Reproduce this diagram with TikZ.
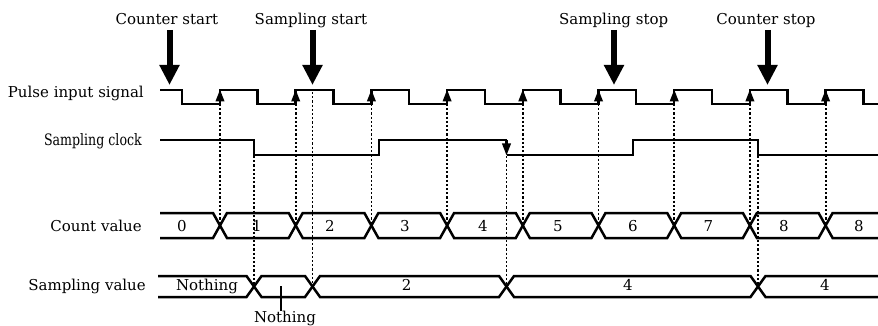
\documentclass[tikz,border=0pt]{standalone}
\usepackage{fontspec}
\usepackage{graphicx}
\setmainfont{DejaVu Serif}
\usetikzlibrary{arrows.meta}
\begin{document}
\begin{tikzpicture}[x=1pt,y=-1pt,
  sig/.style={line width=2.5pt, line join=miter},
  dotline/.style={line width=1.8pt, dash pattern=on 2.2pt off 2pt},
  edgearrow/.style={line width=2.2pt, -{Triangle[width=8.5pt,length=12pt]}},
  bigarrow/.style={line width=6pt, -{Triangle[width=19pt,length=20pt]}},
  txt/.style={font=\fontsize{15}{18}\selectfont, inner sep=0pt},
  lbl/.style={txt, anchor=base east},
  toplbl/.style={txt, anchor=base},
  val/.style={txt, anchor=base}]
\useasboundingbox (0,0) rectangle (878,326);

% ---- left labels
\node[lbl] (pis) at (144,97.7) {Pulse input signal};
\node[lbl] (scl) at (142,146) {\scalebox{0.84}[1.05]{Sampling clock}};
\node[lbl] (cnt) at (142,231) {Count value};
\node[lbl] (smv) at (146,290) {Sampling value};

% ---- top labels and big arrows
\node[toplbl] (cstart) at (167,25) {Counter start};
\node[toplbl] (sstart) at (311,25) {Sampling start};
\node[toplbl] (sstop) at (613.7,25) {Sampling stop};
\node[toplbl] (cstop) at (766,25) {Counter stop};
\coordinate (a1) at (169.5,30); \coordinate (b1) at (169.5,85);
\coordinate (a2) at (312.5,30); \coordinate (b2) at (312.5,85);
\coordinate (a3) at (614,30);   \coordinate (b3) at (614,85);
\coordinate (a4) at (767.5,30); \coordinate (b4) at (767.5,85);
\draw[bigarrow] (a1) -- (b1);
\draw[bigarrow] (a2) -- (b2);
\draw[bigarrow] (a3) -- (b3);
\draw[bigarrow] (a4) -- (b4);

% ---- pulse input signal
\draw[sig] (160,90) -- (182,90) -- (182,104) -- (220,104) -- (220,90)
  -- (257.7,90) -- (257.7,104) -- (295.7,104) -- (295.7,90)
  -- (333.4,90) -- (333.4,104) -- (371.4,104) -- (371.4,90)
  -- (409.1,90) -- (409.1,104) -- (447.1,104) -- (447.1,90)
  -- (484.8,90) -- (484.8,104) -- (522.8,104) -- (522.8,90)
  -- (560.5,90) -- (560.5,104) -- (598.5,104) -- (598.5,90)
  -- (636.2,90) -- (636.2,104) -- (674.2,104) -- (674.2,90)
  -- (711.9,90) -- (711.9,104) -- (749.9,104) -- (749.9,90)
  -- (787.6,90) -- (787.6,104) -- (825.6,104) -- (825.6,90)
  -- (863.3,90) -- (863.3,104) -- (878,104);
\foreach \x [count=\i] in {220,295.7,371.4,447.1,522.8,598.5,674.2,749.9,825.6}{
  \coordinate (r\i) at (\x,104);
  \coordinate (t\i) at (\x,89.5);
  \coordinate (c\i) at (\x,225.5);
  \draw[edgearrow] (r\i) -- (t\i);
  \draw[dotline] (r\i) -- (c\i);
}

% ---- sampling clock
\draw[sig] (160,140) -- (254,140) -- (254,155) -- (379,155) -- (379,140) -- (506.5,140);
\coordinate (ka) at (506.5,140); \coordinate (kb) at (506.5,155.5);
\draw[edgearrow] (ka) -- (kb);
\draw[sig] (506.5,155) -- (633,155) -- (633,140) -- (758,140) -- (758,155) -- (878,155);

% ---- dotted lines to sampling value
\coordinate (s1) at (254,156);   \coordinate (x1) at (254,286.5);
\coordinate (s2) at (312.5,92);  \coordinate (x2) at (312.5,286.5);
\coordinate (s3) at (506.5,156); \coordinate (x3) at (506.5,286.5);
\coordinate (s4) at (758,156);   \coordinate (x4) at (758,286.5);
\draw[dotline] (s1) -- (x1);
\draw[dotline] (s2) -- (x2);
\draw[dotline] (s3) -- (x3);
\draw[dotline] (s4) -- (x4);

% ---- count value band
\def\T{213}\def\B{238}
\draw[sig] (160,\T) -- (213,\T) -- (227,\B) -- (288.7,\B) -- (302.7,\T) -- (364.4,\T) -- (378.4,\B)
  -- (440.1,\B) -- (454.1,\T) -- (515.8,\T) -- (529.8,\B) -- (591.5,\B) -- (605.5,\T)
  -- (667.2,\T) -- (681.2,\B) -- (742.9,\B) -- (756.9,\T) -- (818.6,\T) -- (832.6,\B) -- (878,\B);
\draw[sig] (160,\B) -- (213,\B) -- (227,\T) -- (288.7,\T) -- (302.7,\B) -- (364.4,\B) -- (378.4,\T)
  -- (440.1,\T) -- (454.1,\B) -- (515.8,\B) -- (529.8,\T) -- (591.5,\T) -- (605.5,\B)
  -- (667.2,\B) -- (681.2,\T) -- (742.9,\T) -- (756.9,\B) -- (818.6,\B) -- (832.6,\T) -- (878,\T);
\foreach \x/\v [count=\i] in {182/0,257/1,330/2,405/3,483/4,558/5,633/6,708.5/7,784/8,859/8}{
  \node[val] (cv\i) at (\x,231) {\v};
}

% ---- sampling value band
\def\ST{276}\def\SB{297}
\draw[sig] (158,\ST) -- (246.5,\ST) -- (261.5,\SB) -- (305,\SB) -- (320,\ST) -- (499,\ST)
  -- (514,\SB) -- (750.5,\SB) -- (765.5,\ST) -- (878,\ST);
\draw[sig] (158,\SB) -- (246.5,\SB) -- (261.5,\ST) -- (305,\ST) -- (320,\SB) -- (499,\SB)
  -- (514,\ST) -- (750.5,\ST) -- (765.5,\SB) -- (878,\SB);
\node[val] (sv1) at (207,290) {Nothing};
\node[val] (sv2) at (406.7,290) {2};
\node[val] (sv3) at (628,290) {4};
\node[val] (sv4) at (825,290) {4};

% ---- "Nothing" callout
\node[val] (nth) at (285,322.5) {Nothing};
\coordinate (tk) at (281,286);
\draw[line width=1.8pt] (tk) -- (nth.north -| tk);
\end{tikzpicture}
\end{document}
